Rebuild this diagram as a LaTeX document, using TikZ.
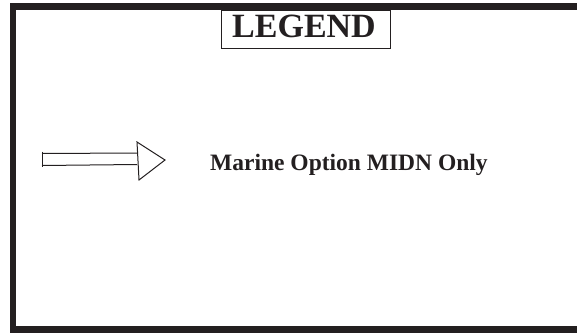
\documentclass[tikz,border=0pt]{standalone}
\usepackage{fontspec}
\setmainfont{Liberation Serif}
\definecolor{ink}{HTML}{231F20}
\begin{document}
\begin{tikzpicture}[x=1pt,y=-1pt,
  frameline/.style={draw=ink,line width=6.5pt},
  thinline/.style={draw=ink,line width=1pt,line join=miter},
  title/.style={font=\bfseries\fontsize{34}{34}\selectfont,text=ink,inner sep=0pt,anchor=base},
  label/.style={font=\bfseries\fontsize{23.5}{23.5}\selectfont,text=ink,inner sep=0pt,anchor=base west}]
\useasboundingbox (0,0) rectangle (577,332);
\clip (0,0) rectangle (577,332);
% outer frame, running on past the right edge
\draw[frameline] (600,6.5) -- (13,6.5) -- (13,329.5) -- (600,329.5);
% title box
\draw[thinline] (221,10) rectangle (390,48);
\node[title] (legend) at (304,37) {LEGEND};
% hollow arrow: shaft, tail stop and head
\coordinate (tail) at (42,159.5);
\draw[thinline] (42,153.5) -- (137,153) (42,165.5) -- (137,164.5);
\draw[thinline] (42,151.5) -- (42,167);
\draw[thinline] (137,142) -- (165,160) -- (139,180) -- cycle;
\node[label] (marine) at (210,170) {Marine Option MIDN Only};
\end{tikzpicture}
\end{document}
